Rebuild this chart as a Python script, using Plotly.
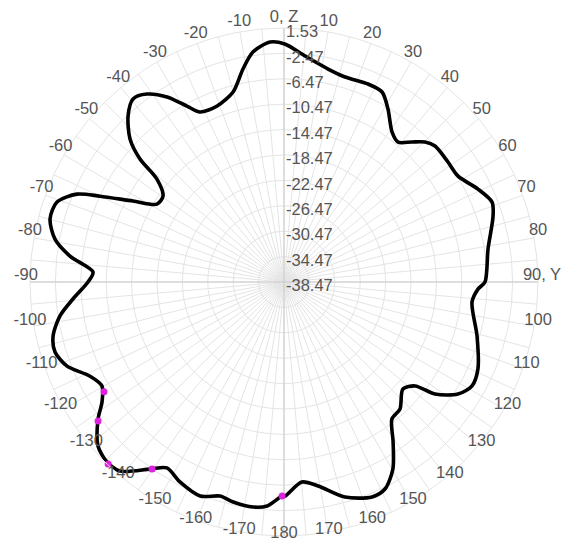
import plotly.graph_objects as go

# ---- data ----
theta_deg = [0.2, 5.3, 11.7, 16.6, 23.0, 27.3, 31.0, 35.8, 39.2, 42.4, 45.2, 48.0, 53.8, 58.7,
             64.4, 69.0, 72.5, 80.8, 90.0, 92.1, 96.1, 105.6, 114.2, 118.9, 122.8, 126.6,
             128.4, 132.0, 137.6, 141.8, 145.7, 149.8, 154.0, 157.7, 164.2, 170.5, 174.9,
             179.7, -179.5, -175.7, -172.2, -167.0, -163.4, -158.6, -152.5, -147.8, -144.4,
             -139.1, -135.5, -131.4, -126.4, -123.4, -119.7, -115.9, -111.2, -107.0, -103.2,
             -98.6, -94.6, -90.0, -87.0, -83.1, -79.4, -74.9, -70.6, -67.0, -65.0, -61.8,
             -58.5, -54.6, -51.0, -49.5, -47.1, -43.2, -39.5, -36.1, -32.3, -28.9, -26.3,
             -20.8, -15.0, -10.9, -7.7, -3.3, 0.2]
gain_db = [-0.99, -2.72, -4.22, -4.79, -4.6, -4.8, -6.68, -9.37, -10.04, -8.6, -7.18, -6.47,
           -6.47, -6.39, -4.6, -3.37, -3.95, -5.92, -6.82, -7.9, -8.69, -6.91, -4.99, -4.64,
           -5.89, -8.86, -12.12, -13.27, -11.38, -11.0, -7.98, -4.39, -2.2, -1.89, -3.27,
           -5.9, -6.85, -4.77, -4.77, -3.1, -2.7, -2.91, -3.29, -2.27, -2.97, -3.87, -2.23,
           0.93, 1.28, 0.58, -2.09, -4.14, -5.46, -4.52, -1.83, -0.76, -1.12, -2.79, -5.13,
           -7.6, -8.35, -4.52, -1.78, -0.31, -0.57, -3.05, -6.49, -11.48, -15.0, -15.1,
           -12.72, -8.65, -5.37, -2.6, -1.1, -1.84, -4.0, -6.82, -8.61, -8.82, -7.49, -4.31,
           -1.92, -0.61, -0.99]

marker_theta = [-121.4, -126.8, -136.0, -144.8, -179.5]
marker_db = [-5.26, -1.9, 1.4, -2.42, -4.77]

r_min, r_max, r_step = -38.47, 1.53, 4.0
radial_ticks = [round(r_min + i * r_step, 2) for i in range(11)]
radial_labels = [f"{v:.2f}" for v in radial_ticks]

angle_ticks = list(range(-170, 190, 10))
angle_labels = []
for a in angle_ticks:
    if a == 0:
        angle_labels.append("0, Z")
    elif a == 90:
        angle_labels.append("90, Y")
    else:
        angle_labels.append(str(a))

grid_angles = list(range(0, 360, 5))

# ---- geometry / style ----
W, H = 570, 548
PAGE_OFFSET = 8                    # default body margin of the html page
CX, CY, R = 284, 282, 254          # on-screen centre and outer-ring radius (px)
ANG_LABEL = dict(cx=284, cy=276, radius=258)   # angular labels (baseline-anchored look)
RAD_LABEL = dict(cx=286, cy=287)               # radial labels sit a little below rings
FONT = "Liberation Sans, Arial, sans-serif"
FONT_SIZE = 16.5
TXT = "#555555"
GRID = "#e4e4e4"


def dom(cx, cy, radius):
    cx, cy = cx - PAGE_OFFSET, cy - PAGE_OFFSET
    return dict(x=[(cx - radius) / W, (cx + radius) / W],
                y=[1 - (cy + radius) / H, 1 - (cy - radius) / H])


label_r = r_min + ANG_LABEL["radius"] / R * (r_max - r_min)

fig = go.Figure()

# central cross (axis lines through the centre)
fig.add_trace(go.Scatterpolar(
    r=[r_max, r_min, r_max], theta=[90, 90, 270], mode="lines",
    line=dict(color="#c9c9c9", width=1), hoverinfo="skip", showlegend=False))
fig.add_trace(go.Scatterpolar(
    r=[r_max, r_min, r_max], theta=[0, 0, 180], mode="lines",
    line=dict(color="#c9c9c9", width=1), hoverinfo="skip", showlegend=False))

# pattern
fig.add_trace(go.Scatterpolar(
    r=gain_db, theta=theta_deg, mode="lines",
    line=dict(color="#000000", width=3.6, shape="spline", smoothing=0.8),
    hoverinfo="skip", showlegend=False))

fig.add_trace(go.Scatterpolar(
    r=marker_db, theta=marker_theta, mode="markers",
    marker=dict(color="#dd22dd", size=7), hoverinfo="skip", showlegend=False))

# radial labels (overlaid polar with the same scale, nudged below the rings)
fig.add_trace(go.Scatterpolar(
    r=radial_ticks, theta=[0] * len(radial_ticks), mode="text",
    text=radial_labels, textposition="middle right",
    textfont=dict(family=FONT, size=FONT_SIZE, color=TXT),
    hoverinfo="skip", showlegend=False, cliponaxis=False, subplot="polar3"))

# angular labels (overlaid, invisible polar with the same scale)
fig.add_trace(go.Scatterpolar(
    r=[label_r] * len(angle_ticks), theta=angle_ticks, mode="text",
    text=angle_labels, textposition="middle center",
    textfont=dict(family=FONT, size=FONT_SIZE, color=TXT),
    hoverinfo="skip", showlegend=False, cliponaxis=False, subplot="polar2"))

hidden_angular = dict(direction="clockwise", rotation=90, visible=False,
                      showgrid=False, showline=False, showticklabels=False)

fig.update_layout(
    width=W, height=H,
    margin=dict(l=0, r=0, t=0, b=0),
    paper_bgcolor="white", plot_bgcolor="white",
    showlegend=False,
    polar=dict(
        domain=dom(CX, CY, R),
        bgcolor="white",
        angularaxis=dict(
            direction="clockwise", rotation=90,
            tickmode="array", tickvals=grid_angles,
            showticklabels=False, ticks="",
            gridcolor=GRID, gridwidth=1,
            showline=True, linecolor=GRID, linewidth=1,
        ),
        radialaxis=dict(
            range=[r_min, r_max], angle=90,
            tickmode="array", tickvals=radial_ticks,
            showticklabels=False, ticks="",
            gridcolor=GRID, gridwidth=1,
            showline=False,
        ),
    ),
    polar2=dict(
        domain=dom(ANG_LABEL["cx"], ANG_LABEL["cy"], ANG_LABEL["radius"]),
        bgcolor="rgba(0,0,0,0)",
        angularaxis=hidden_angular,
        radialaxis=dict(range=[r_min, label_r], visible=False,
                        showgrid=False, showline=False, showticklabels=False),
    ),
    polar3=dict(
        domain=dom(RAD_LABEL["cx"], RAD_LABEL["cy"], R),
        bgcolor="rgba(0,0,0,0)",
        angularaxis=hidden_angular,
        radialaxis=dict(range=[r_min, r_max], visible=False,
                        showgrid=False, showline=False, showticklabels=False),
    ),
)

fig.write_html("out.html")
